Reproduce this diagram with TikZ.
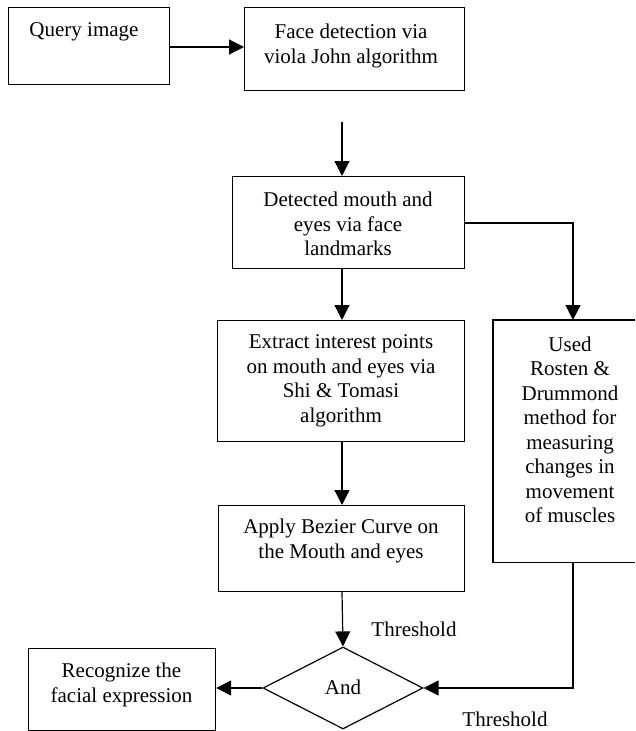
\documentclass[tikz,border=0pt]{standalone}
\usepackage{fontspec}
\setmainfont{Liberation Serif}
\usetikzlibrary{arrows.meta,shapes.geometric}
\begin{document}
\begin{tikzpicture}[x=1pt,y=-1pt,
  box/.style={draw,line width=1.2pt,inner sep=0pt,anchor=north west},
  txt/.style={align=center,inner sep=0pt,font=\fontsize{21}{24.5}\selectfont},
  arr/.style={line width=1.2pt,-{Triangle[length=15pt,width=15pt]}},
  ln/.style={line width=1.2pt}]
\useasboundingbox (0,0) rectangle (635,731);
% boxes
\node[box,minimum width=161pt,minimum height=77pt] (q) at (8,7) {};
\node[txt] (qt) at (84,32) {Query image};
\node[box,minimum width=220pt,minimum height=83pt] (f) at (244,7) {};
\node[txt] (ft) at (351,46) {Face detection via\\viola John algorithm};
\coordinate (start) at (342,122);
\node[box,minimum width=232pt,minimum height=92pt] (d) at (232,176) {};
\node[txt] (dt) at (348,224) {Detected mouth and\\eyes via face\\landmarks};
\node[box,minimum width=247pt,minimum height=121pt] (e) at (217,320) {};
\node[txt] (et) at (341,381) {Extract interest points\\on mouth and eyes via\\Shi \& Tomasi\\algorithm};
\node[box,minimum width=246pt,minimum height=86pt] (a) at (218,505) {};
\node[txt] (at) at (341,541) {Apply Bezier Curve on\\the Mouth and eyes};
\node[inner sep=0pt,anchor=north west,minimum width=142pt,minimum height=242pt] (r) at (493,320) {};
\draw[ln] (r.north east) -- (r.north west) -- (r.south west) -- (r.south east);
\node[txt] (rt) at (570,430) {Used\\Rosten \&\\Drummond\\method for\\measuring\\changes in\\movement\\of muscles};
\node[draw,line width=1.2pt,shape=diamond,minimum width=160pt,minimum height=82pt,inner sep=0pt] (dia) at (343,688) {};
\node[txt] (andt) at (343,687) {And};
\node[box,minimum width=187pt,minimum height=82pt] (rec) at (28,648) {};
\node[txt] (rect) at (121.5,685) {Recognize the\\facial expression};
\node[txt] (th1) at (414,629) {Threshold};
\node[txt] (th2) at (505,719) {Threshold};
% connectors
\coordinate (colx) at (342,0);
\coordinate (colr) at (573,0);
\draw[arr] (q.east |- 0,47) -- (f.west |- 0,47);
\draw[arr] (start) -- (colx |- d.north);
\draw[arr] (colx |- d.south) -- (colx |- e.north);
\draw[arr] (colx |- e.south) -- (colx |- a.north);
\draw[arr] (colx |- a.south) -- (dia.north);
\draw[arr] (d.east |- 0,223) -- (colr |- 0,223) -- (colr |- r.north);
\draw[arr] (colr |- r.south) -- (colr |- dia.east) -- (dia.east);
\draw[arr] (dia.west) -- (rec.east |- dia.west);
\end{tikzpicture}
\end{document}
